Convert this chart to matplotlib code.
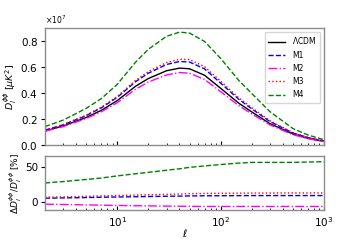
import matplotlib
matplotlib.use("Agg")
import matplotlib.pyplot as plt
from matplotlib.ticker import ScalarFormatter
import numpy as np

ell = [2, 3, 5, 7, 10, 15, 20, 30, 40, 50, 70, 100, 150, 200, 300, 500, 700, 1000]

# D_l^{phiphi} in units of 1e7 muK^2
lcdm = [0.112, 0.150, 0.215, 0.270, 0.345, 0.455, 0.515, 0.575, 0.595, 0.590, 0.540, 0.440, 0.325, 0.258, 0.168, 0.088, 0.055, 0.031]
m1 = [0.118, 0.159, 0.229, 0.289, 0.370, 0.490, 0.556, 0.623, 0.646, 0.642, 0.589, 0.480, 0.355, 0.282, 0.184, 0.096, 0.060, 0.034]
m2 = [0.109, 0.145, 0.207, 0.259, 0.329, 0.432, 0.488, 0.543, 0.561, 0.556, 0.508, 0.414, 0.306, 0.243, 0.158, 0.083, 0.052, 0.029]
m3 = [0.120, 0.161, 0.233, 0.294, 0.377, 0.500, 0.569, 0.638, 0.663, 0.661, 0.606, 0.495, 0.366, 0.291, 0.190, 0.099, 0.062, 0.035]
m4 = [0.145, 0.195, 0.285, 0.360, 0.470, 0.640, 0.740, 0.840, 0.872, 0.865, 0.800, 0.670, 0.500, 0.400, 0.260, 0.130, 0.080, 0.044]

# relative differences in %
r1 = [5.6, 6.0, 6.5, 7.0, 7.3, 7.7, 8.0, 8.3, 8.6, 8.8, 9.0, 9.1, 9.2, 9.3, 9.3, 9.3, 9.3, 9.3]
r2 = [-2.8, -3.2, -3.8, -4.2, -4.6, -5.0, -5.2, -5.5, -5.7, -5.8, -6.0, -6.0, -6.0, -6.0, -6.0, -6.0, -6.0, -6.0]
r3 = [7.0, 7.5, 8.2, 8.8, 9.4, 10.0, 10.5, 11.0, 11.5, 12.0, 12.3, 12.5, 12.7, 12.8, 12.9, 13.0, 13.0, 13.0]
r4 = [27, 29, 32, 34, 37, 40, 42, 45, 47, 49, 51, 53, 55, 56, 56, 56, 56.5, 57]

labels = [r"$\Lambda$CDM", "M1", "M2", "M3", "M4"]
scale = 1e7

fig = plt.figure(figsize=(3.6, 2.4), dpi=100)
ax1 = fig.add_axes([0.125, 0.394, 0.775, 0.49])
ax2 = fig.add_axes([0.125, 0.125, 0.775, 0.225], sharex=ax1)

styles = [dict(color="black", ls="-"),
          dict(color="blue", ls="--"),
          dict(color="magenta", ls="-."),
          dict(color="red", ls=":"),
          dict(color="green", ls="--")]

for data, lab, st in zip([lcdm, m1, m2, m3, m4], labels, styles):
    ax1.plot(ell, np.array(data) * scale, lw=1.0, label=lab, **st)

for data, st in zip([r1, r2, r3, r4], styles[1:]):
    ax2.plot(ell, data, lw=1.0, **st)

ax1.set_xscale("log")
ax1.set_xlim(2, 1000)
ax1.set_ylim(0, 0.905e7)
ax1.set_yticks([0, 0.2e7, 0.4e7, 0.6e7, 0.8e7])
fmt = ScalarFormatter(useMathText=True)
fmt.set_powerlimits((7, 7))
ax1.yaxis.set_major_formatter(fmt)
ax2.set_ylim(-11, 65)
ax2.set_yticks([0, 50])

for ax in (ax1, ax2):
    for s in ax.spines.values():
        s.set_edgecolor("0.55")
        s.set_linewidth(1.0)
    ax.tick_params(axis="x", which="both", direction="in", labelsize=7.5)
    ax.tick_params(axis="y", direction="out", labelsize=7.5, length=3, pad=2)
    ax.tick_params(axis="x", which="major", length=3)
    ax.tick_params(axis="x", which="minor", length=1.8)

plt.setp(ax1.get_xticklabels(), visible=False)
ax1.yaxis.get_offset_text().set_fontsize(5.5)

ax1.set_ylabel(r"$D_l^{\phi\phi}\ [\mu K^2]$", fontsize=6.8, labelpad=1)
ax2.set_ylabel(r"$\Delta D_l^{\phi\phi}/D_l^{\phi\phi}$ [%]", fontsize=6.5, labelpad=1)
ax2.set_xlabel(r"$\ell$", fontsize=7.5, labelpad=-1)

ax1.legend(loc="upper right", fontsize=5.5, frameon=True, handlelength=2.2,
           borderpad=0.5, labelspacing=0.55, handletextpad=0.9)

fig.savefig("out.png", dpi=100)
